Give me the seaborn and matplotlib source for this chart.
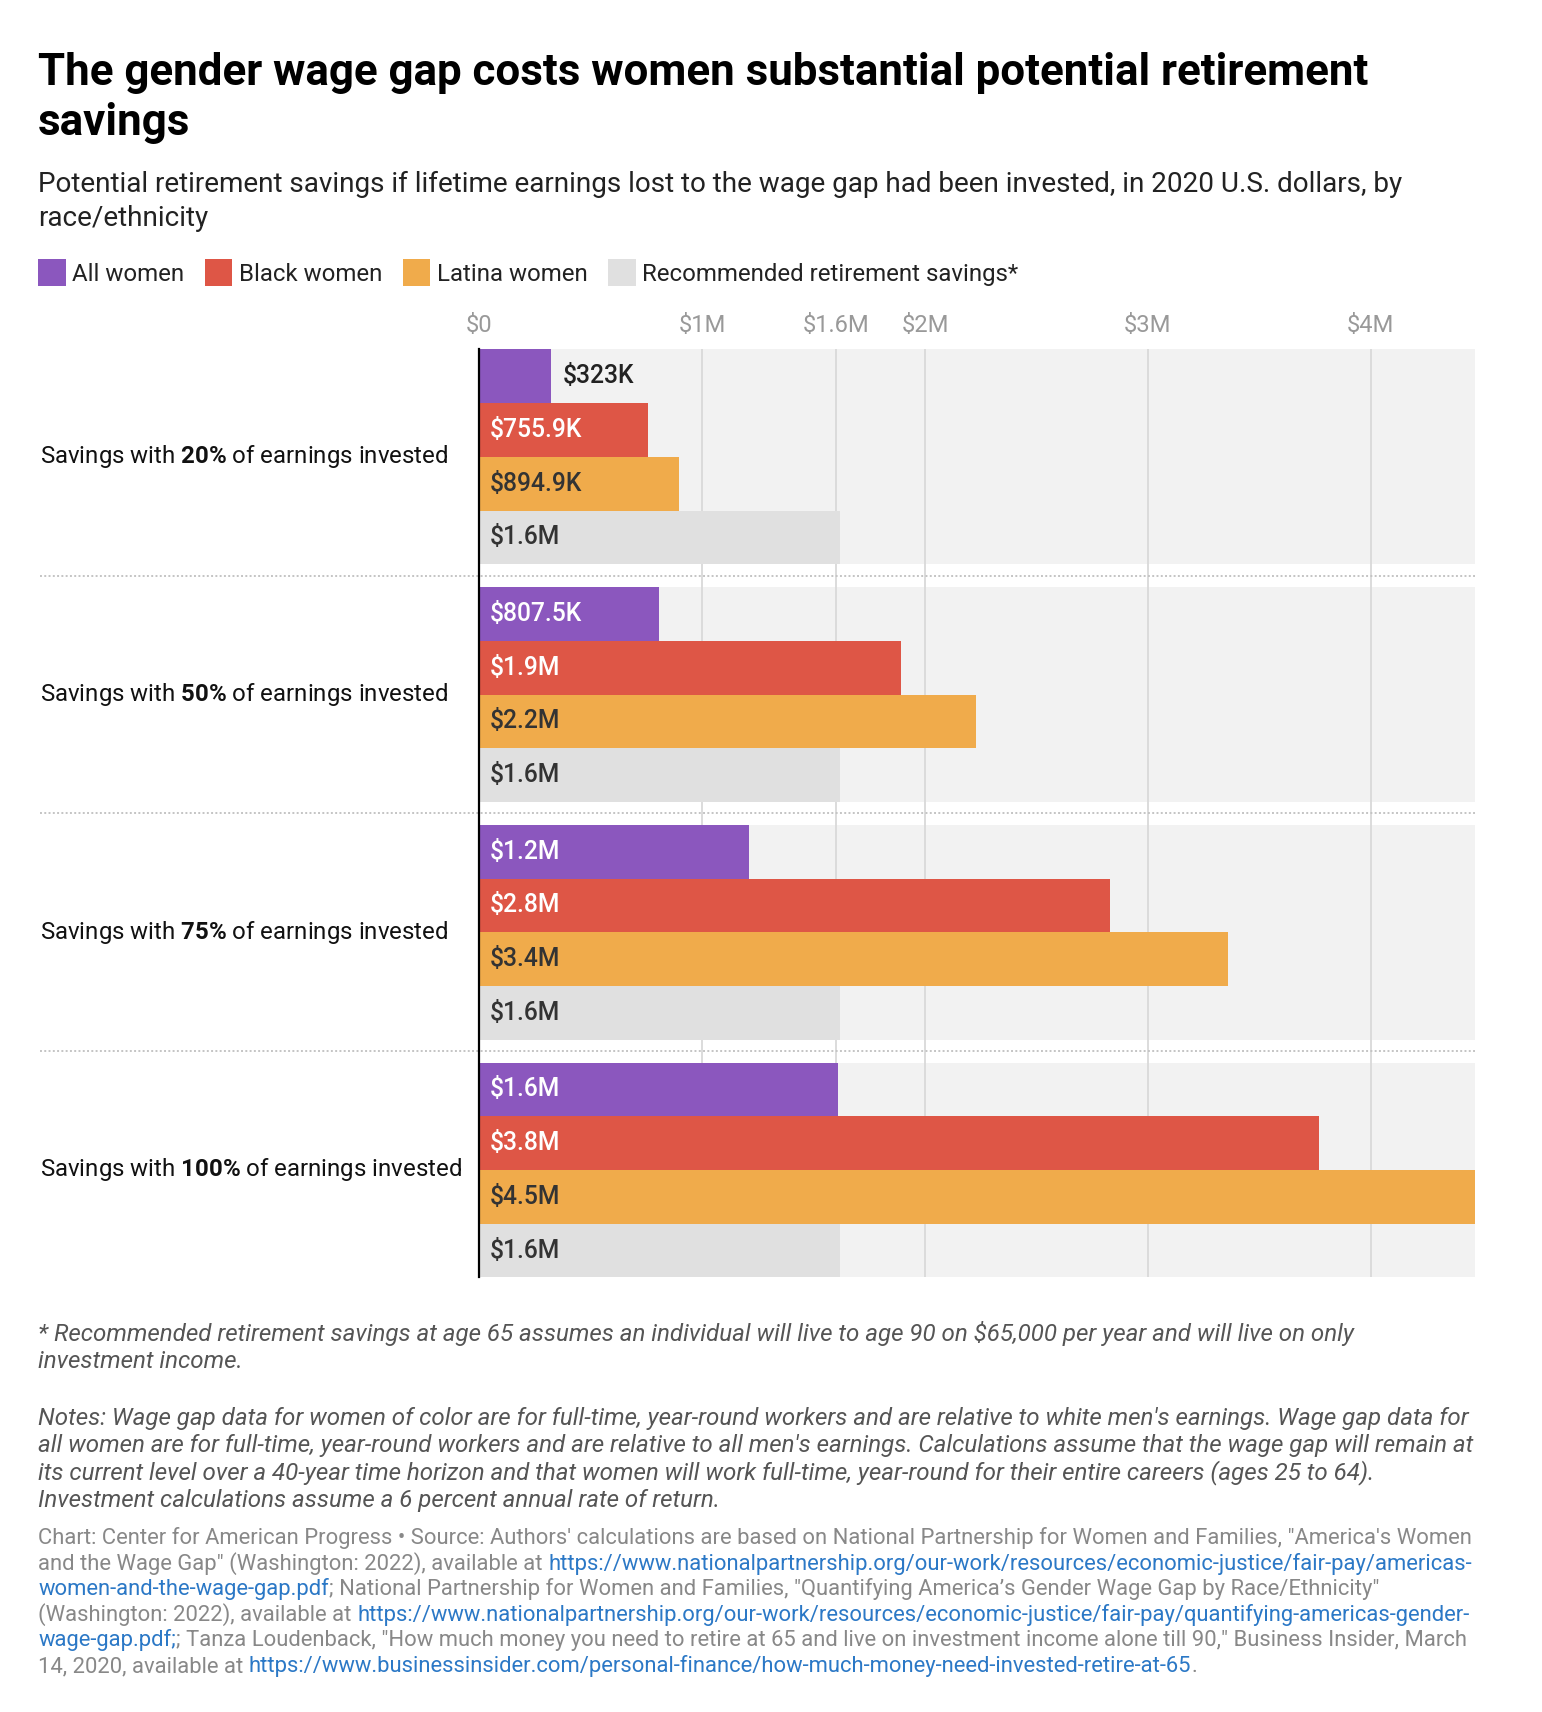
import matplotlib
matplotlib.use("Agg")
import matplotlib.pyplot as plt
import matplotlib.patches as mpatches
import matplotlib.transforms as mtransforms
import pandas as pd
import seaborn as sns

# datos del gráfico
levels = ["20%", "50%", "75%", "100%"]
series = ["All women", "Black women", "Latina women", "Recommended retirement savings*"]
all_women = [323000, 807500, 1210000, 1610000]
black_women = [755900, 1890000, 2830000, 3770000]
latina_women = [894900, 2230000, 3360000, 4470000]
recommended = [1620000, 1620000, 1620000, 1620000]
tick_values = [0, 1000000, 1600000, 2000000, 3000000, 4000000]
tick_labels = ["$0", "$1M", "$1.6M", "$2M", "$3M", "$4M"]

colors = ["#8b57be", "#de5646", "#f0ab4b", "#e0e0e0"]
label_colors = ["white", "white", "#333333", "#333333"]

title = ["The gender wage gap costs women substantial potential retirement",
         "savings"]
subtitle = ["Potential retirement savings if lifetime earnings lost to the wage gap had been invested, in 2020 U.S. dollars, by",
            "race/ethnicity"]
footnote = ["* Recommended retirement savings at age 65 assumes an individual will live to age 90 on $65,000 per year and will live on only",
            "investment income."]
notes = ["Notes: Wage gap data for women of color are for full-time, year-round workers and are relative to white men's earnings. Wage gap data for",
         "all women are for full-time, year-round workers and are relative to all men's earnings. Calculations assume that the wage gap will remain at",
         "its current level over a 40-year time horizon and that women will work full-time, year-round for their entire careers (ages 25 to 64).",
         "Investment calculations assume a 6 percent annual rate of return."]
source_lines = [
    [("Chart: Center for American Progress \u2022 Source: Authors' calculations are based on National Partnership for Women and Families, \"America's Women", False)],
    [("and the Wage Gap\" (Washington: 2022), available at ", False),
     ("https://www.nationalpartnership.org/our-work/resources/economic-justice/fair-pay/americas-", True)],
    [("women-and-the-wage-gap.pdf", True),
     ("; National Partnership for Women and Families, \"Quantifying America\u2019s Gender Wage Gap by Race/Ethnicity\"", False)],
    [("(Washington: 2022), available at ", False),
     ("https://www.nationalpartnership.org/our-work/resources/economic-justice/fair-pay/quantifying-americas-gender-", True)],
    [("wage-gap.pdf;", True),
     ("; Tanza Loudenback, \"How much money you need to retire at 65 and live on investment income alone till 90,\" Business Insider, March", False)],
    [("14, 2020, available at ", False),
     ("https://www.businessinsider.com/personal-finance/how-much-money-need-invested-retire-at-65", True),
     (".", False)],
]

df = pd.DataFrame({
    "level": levels * 4,
    "series": [s for s in series for _ in levels],
    "value": all_women + black_women + latina_women + recommended,
})

sns.set_theme(style="white")
plt.rcParams["font.family"] = ["Roboto", "DejaVu Sans"]
plt.rcParams["mathtext.fontset"] = "custom"
plt.rcParams["mathtext.rm"] = "Roboto"
plt.rcParams["mathtext.bf"] = "Roboto:bold"

# coordenadas de referencia (imagen 1412x1568) -> figura 1542x1712
W, H = 1412, 1568
S = 1542 / W


def fx(x):
    return x / W


def fy(y):
    return 1 - y / H


def pt(px):
    return px * S * 0.72


fig = plt.figure(figsize=(15.42, 17.12), dpi=100)
ax = fig.add_axes([fx(439), fy(1170), fx(1351) - fx(439), (1170 - 320) / H])

band = 0.904
for i in range(len(levels)):
    ax.axhspan(i - band / 2, i + band / 2, color="#f2f2f2", zorder=0, lw=0)

sns.barplot(data=df, y="level", x="value", hue="series", order=levels, hue_order=series,
            palette=colors, saturation=1, width=band, gap=0, orient="h", legend=False,
            linewidth=0, ax=ax)

ax.set_xlim(0, max(latina_women))
ax.set_ylim(len(levels) - 1 + band / 2, -band / 2)
ax.set_axisbelow(True)
ax.xaxis.tick_top()
ax.set_xticks(tick_values)
ax.set_xticklabels(tick_labels)
ax.tick_params(axis="x", length=0, pad=pt(11), labelsize=pt(21.8), labelcolor="#999999")
ax.set_yticks([])
ax.set_xlabel("")
ax.set_ylabel("")
ax.grid(axis="x", color="#d9d9d9", lw=1.3)
ax.grid(axis="y", visible=False)
for side in ["top", "right", "bottom"]:
    ax.spines[side].set_visible(False)
ax.spines["left"].set_color("black")
ax.spines["left"].set_linewidth(1.6)
ax.spines["left"].set_zorder(5)

# etiquetas de valor
for k, cont in enumerate(ax.containers):
    for bar in cont:
        v = bar.get_width()
        if v < 1e6:
            txt = "$" + f"{v / 1e3:.1f}".rstrip("0").rstrip(".") + "K"
        else:
            txt = "$" + f"{v / 1e6:.1f}M"
        yc = bar.get_y() + bar.get_height() / 2
        if v < 0.45e6:
            ax.annotate(txt, (v, yc), xytext=(pt(10), 0), textcoords="offset points",
                        va="center", ha="left", fontsize=pt(22.6), color="#222222",
                        fontweight="medium", zorder=6)
        else:
            ax.annotate(txt, (0, yc), xytext=(pt(9.5), 0), textcoords="offset points",
                        va="center", ha="left", fontsize=pt(22.6), color=label_colors[k],
                        fontweight="medium", zorder=6)

# separadores punteados y etiquetas de categoría
blend = mtransforms.blended_transform_factory(fig.transFigure, ax.transData)
for i in range(len(levels) - 1):
    ax.plot([fx(37), fx(1351)], [i + 0.5, i + 0.5], transform=blend, clip_on=False,
            color="#c4c4c4", lw=1.4, ls=(0, (1, 1.2)), zorder=4)
for i, lv in enumerate(levels):
    lbl = "Savings with $\\mathbf{" + lv.replace("%", "\\%") + "}$ of earnings invested"
    ax.text(fx(37), i, lbl, transform=blend, ha="left", va="center",
            fontsize=pt(22), color="#111111")


def text_lines(lines, y0, step, **kw):
    for n, s in enumerate(lines):
        fig.text(fx(35), fy(y0 + n * step), s, ha="left", va="baseline", **kw)


# títulos
text_lines(title, 78, 46, fontsize=pt(40.2), fontweight="bold", color="black")
text_lines(subtitle, 176, 31, fontsize=pt(25.5), color="#222222")

renderer = fig.canvas.get_renderer()


def text_width(s, **kw):
    t = fig.text(0, 0, s + "|", **kw)
    t2 = fig.text(0, 0, "|", **kw)
    w = t.get_window_extent(renderer).width - t2.get_window_extent(renderer).width
    t.remove()
    t2.remove()
    return w / fig.bbox.width


# leyenda
lx = fx(35)
for name, c in zip(series, colors):
    fig.patches.append(mpatches.Rectangle((lx, fy(262)), fx(25), (262 - 237) / H,
                                          transform=fig.transFigure, color=c, lw=0))
    fig.text(lx + fx(31), fy(257), name, ha="left", va="baseline", fontsize=pt(22), color="#222222")
    lx += fx(31) + text_width(name, fontsize=pt(22)) + fx(19)

# notas
text_lines(footnote, 1228, 25, fontsize=pt(22.15), style="italic", color="#555555")
text_lines(notes, 1305, 25, fontsize=pt(22.15), style="italic", color="#555555")

# fuente con enlaces
for j, line in enumerate(source_lines):
    x0 = fx(35)
    y0 = fy(1414 + j * 23.5)
    prefix = ""
    for seg, is_link in line:
        x = x0 + (text_width(prefix, fontsize=pt(20.1)) if prefix else 0)
        fig.text(x, y0, seg, ha="left", va="baseline", fontsize=pt(20.1),
                 color="#2b78c6" if is_link else "#888888")
        prefix += seg

fig.savefig("out.png", dpi=100, facecolor="white")
